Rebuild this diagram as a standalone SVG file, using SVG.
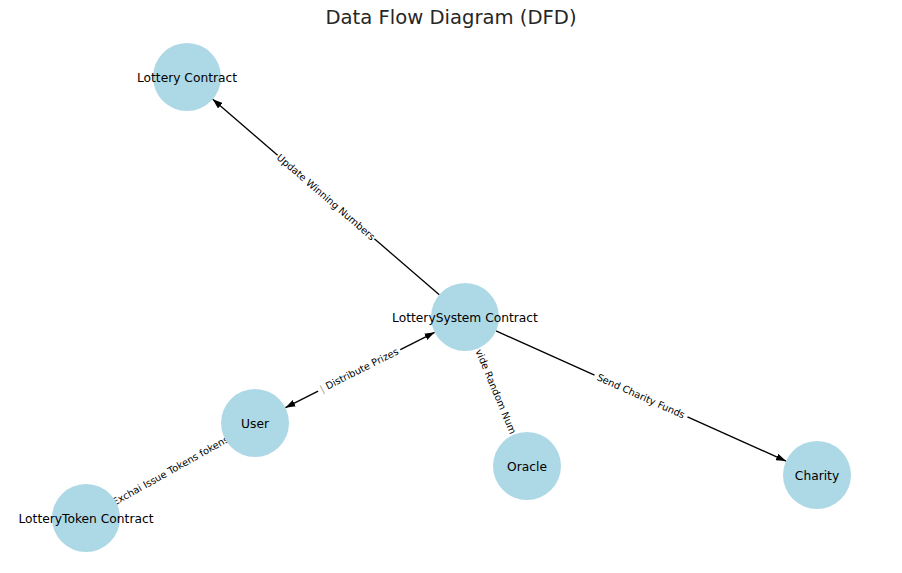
<svg xmlns="http://www.w3.org/2000/svg" width="902" height="573" viewBox="0 0 902 573">
<style>
.node{fill:#ADD8E6;}
.nl{font-family:"DejaVu Sans",sans-serif;font-size:12.25px;fill:#000;text-anchor:middle;}
.el{font-family:"DejaVu Sans",sans-serif;font-size:9.8px;fill:#000;text-anchor:middle;}
.edge{stroke:#000;stroke-width:1.3;fill:none;}
.bg{fill:#fff;}
.title{font-family:"DejaVu Sans",sans-serif;font-size:19.6px;fill:#262626;text-anchor:middle;}
</style>
<defs>
<marker id="ah" viewBox="0 0 10 7" refX="10" refY="3.5" markerWidth="10" markerHeight="7" orient="auto-start-reverse" markerUnits="userSpaceOnUse">
<path d="M0,0 L10,3.5 L0,7 z" fill="#000"/>
</marker>
</defs>
<rect width="902" height="573" fill="#fff"/>
<text class="title" x="451" y="24">Data Flow Diagram (DFD)</text>
<g id="connectors">
<line class="edge" x1="439.3" y1="294.8" x2="212.7" y2="99.2" marker-end="url(#ah)"/>
<line class="edge" x1="285.4" y1="407.7" x2="434.6" y2="332.3" marker-start="url(#ah)" marker-end="url(#ah)"/>
<line class="edge" x1="478" y1="348.4" x2="514" y2="434.6"/>
<line class="edge" x1="496" y1="330.9" x2="786" y2="461.1" marker-end="url(#ah)"/>
<line class="edge" x1="225.4" y1="439.7" x2="115.6" y2="501.3"/>
</g>
<g id="edge-labels">
<g transform="translate(326,197) rotate(40.8)"><rect class="bg" x="-64" y="-7" width="128" height="14" rx="3"/><text class="el" y="3.5">Update Winning Numbers</text></g>
<g transform="translate(359,370) rotate(-26.8)"><rect class="bg" x="-46" y="-7" width="92" height="14" rx="3"/><text class="el" y="3.5"><tspan fill="#999">|</tspan> Distribute Prizes</text></g>
<g transform="translate(496,391.5) rotate(67.4)"><rect class="bg" x="-70" y="-7" width="140" height="14" rx="3"/><text class="el" y="3.5">vide Random Num</text></g>
<g transform="translate(641,396) rotate(24.2)"><rect class="bg" x="-51" y="-7" width="102" height="14" rx="3"/><text class="el" y="3.5">Send Charity Funds</text></g>
<g transform="translate(170.5,470.5) rotate(-29.3)"><rect class="bg" x="-70" y="-7" width="140" height="14" rx="3"/><text class="el" y="3.5">Exchai Issue Tokens fokens</text></g>
</g>
<g id="node-lottery-contract"><circle class="node" cx="187" cy="77" r="34"/><text class="nl" x="187" y="81.5">Lottery Contract</text></g>
<g id="node-lotterysystem-contract"><circle class="node" cx="465" cy="317" r="34"/><text class="nl" x="465" y="321.5">LotterySystem Contract</text></g>
<g id="node-user"><circle class="node" cx="255" cy="423" r="34"/><text class="nl" x="255" y="427.5">User</text></g>
<g id="node-oracle"><circle class="node" cx="527" cy="466" r="34"/><text class="nl" x="527" y="470.5">Oracle</text></g>
<g id="node-charity"><circle class="node" cx="817" cy="475" r="34"/><text class="nl" x="817" y="479.5">Charity</text></g>
<g id="node-lotterytoken-contract"><circle class="node" cx="86" cy="518" r="34"/><text class="nl" x="86" y="522.5">LotteryToken Contract</text></g>
</svg>
